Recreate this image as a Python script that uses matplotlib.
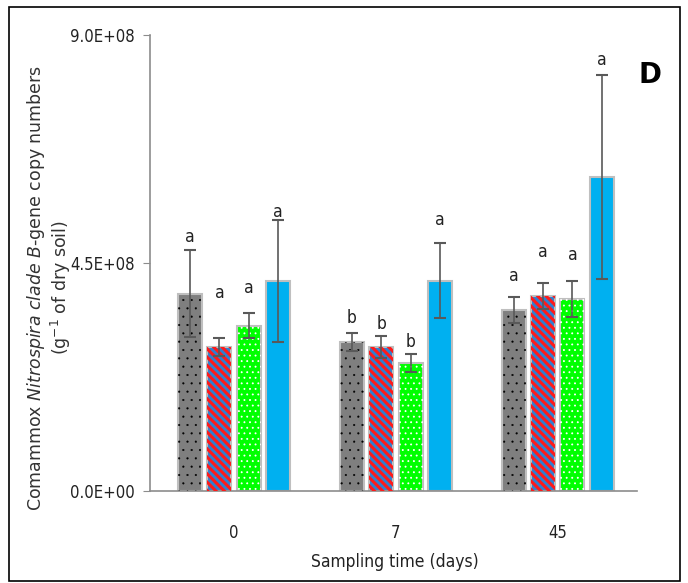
import matplotlib
matplotlib.use('Agg')
import matplotlib.pyplot as plt
import numpy as np
from matplotlib.patches import Rectangle
from matplotlib.ticker import FuncFormatter

days = ['0', '7', '45']

# mean copy numbers per treatment at each sampling time
gray_mean = [3.89e8, 2.94e8, 3.57e8]
red_mean = [2.84e8, 2.84e8, 3.85e8]
green_mean = [3.26e8, 2.53e8, 3.79e8]
blue_mean = [4.15e8, 4.15e8, 6.20e8]

gray_err = [0.86e8, 0.18e8, 0.26e8]
red_err = [0.18e8, 0.21e8, 0.26e8]
green_err = [0.25e8, 0.18e8, 0.36e8]
blue_err = [1.20e8, 0.74e8, 2.01e8]

# significance letters and the height they sit at
gray_lab = ['a', 'b', 'a']
red_lab = ['a', 'b', 'a']
green_lab = ['a', 'b', 'a']
blue_lab = ['a', 'a', 'a']
gray_lab_y = [5.01e8, 3.42e8, 4.24e8]
red_lab_y = [3.91e8, 3.30e8, 4.72e8]
green_lab_y = [4.01e8, 2.94e8, 4.66e8]
blue_lab_y = [5.51e8, 5.35e8, 8.51e8]

font = dict(family='DejaVu Sans', stretch='condensed')

fig = plt.figure(figsize=(6.88, 5.83), dpi=100)
ax = fig.add_axes([150/688, 92/583, 487/688, 456/583])

x = np.arange(len(days))
off = 0.182
w = 0.148
# face colour, hatch, hatch colour, hatch line width
series = [
    (gray_mean, gray_err, gray_lab, gray_lab_y, '#7f7f7f', '..', 'black', 0.3),
    (red_mean, red_err, red_lab, red_lab_y, '#2f7fd0', '\\\\\\\\', '#ff1a1a', 2.2),
    (green_mean, green_err, green_lab, green_lab_y, '#00ff00', '...', 'white', 0.6),
    (blue_mean, blue_err, blue_lab, blue_lab_y, '#00b0f0', None, None, 1.0),
]
for i, (m, e, lab, ly, fc, hatch, hc, hlw) in enumerate(series):
    xs = x + (i - 1.5) * off
    ax.bar(xs, m, w, color=fc, edgecolor='#bfbfbf', linewidth=1.5, zorder=2)
    if hatch:
        with plt.rc_context({'hatch.linewidth': hlw}):
            ax.bar(xs, m, w, color='none', edgecolor=hc, hatch=hatch,
                   linewidth=0, zorder=3)
    ax.errorbar(xs, m, yerr=e, fmt='none', ecolor='#595959', elinewidth=1.2,
                capsize=4, capthick=1.5, zorder=4)
    for xi, t, yy in zip(xs, lab, ly):
        ax.text(xi, yy, t, ha='center', va='center', fontsize=12.5,
                color='#222222', **font)

ax.set_ylim(0, 9e8)
ax.set_xlim(-0.52, 2.49)
ax.set_yticks([0, 4.5e8, 9e8])
ax.yaxis.set_major_formatter(FuncFormatter(lambda v, p: '{:.1E}'.format(v)))
ax.set_xticks(x)
ax.set_xticklabels(days)
for s in ['top', 'right']:
    ax.spines[s].set_visible(False)
for s in ['left', 'bottom']:
    ax.spines[s].set_color('#8c8c8c')
    ax.spines[s].set_linewidth(1.2)
ax.tick_params(axis='x', length=0, pad=24)
ax.tick_params(axis='y', length=5, color='#8c8c8c', pad=6)
for t in ax.get_xticklabels() + ax.get_yticklabels():
    t.set_family(font['family'])
    t.set_stretch(font['stretch'])
    t.set_fontsize(12)
    t.set_color('#222222')

ax.set_xlabel('Sampling time (days)', fontsize=12.5, color='#222222', **font)
ax.xaxis.set_label_coords(0.503, -0.136)
fig.text(49/688, 1 - 288/583,
         'Comammox $\\it{Nitrospira\\ clade\\ B}$-gene copy numbers\n'
         '(g$^{-1}$ of dry soil)', fontsize=12.5, color='#333333',
         rotation=90, ha='center', va='center', multialignment='center',
         linespacing=1.1)

fig.text(650/688, 1 - 75/583, 'D', fontsize=20, fontweight='bold',
         ha='center', va='center')

fig.patches.append(Rectangle((9/688, 2/583), 671/688, 574/583,
                             transform=fig.transFigure, fill=False,
                             edgecolor='black', linewidth=1.2))

fig.savefig('out.png', dpi=100)
